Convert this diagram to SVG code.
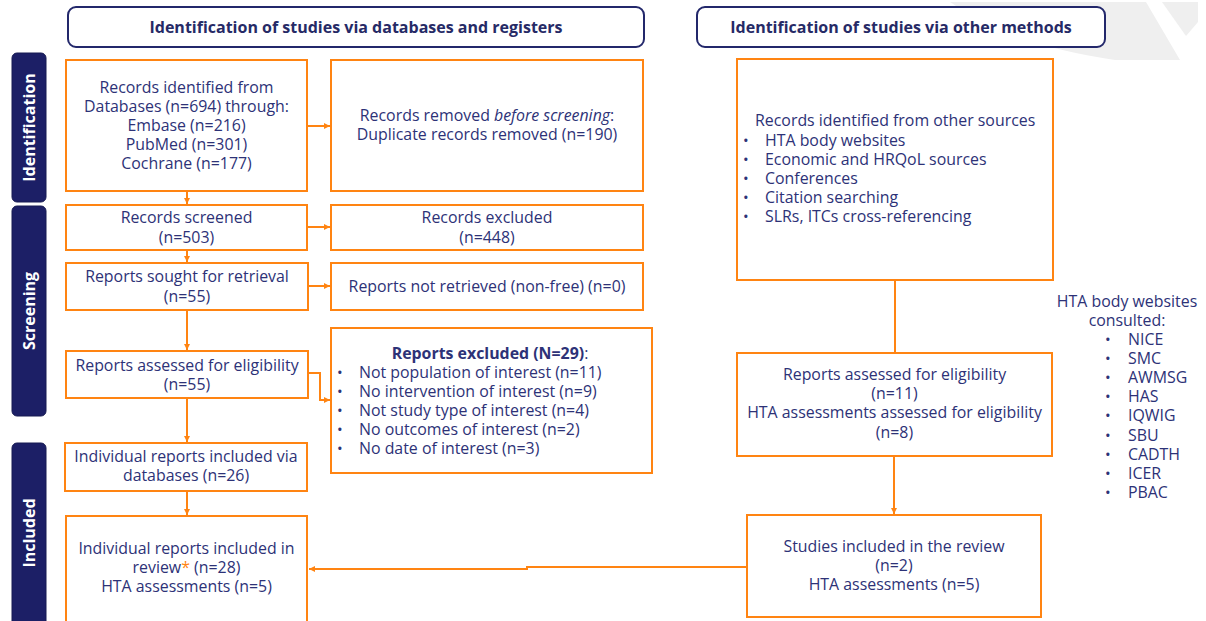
<svg xmlns="http://www.w3.org/2000/svg" width="1206" height="621" viewBox="0 0 1206 621">
<style>
.t{font-family:"Open Sans","Liberation Sans",sans-serif;font-size:15.9px;fill:#2d3277}
.c{text-anchor:middle}
.hb{font-family:"Open Sans","Liberation Sans",sans-serif;font-size:16px;font-weight:bold;fill:#262a66;text-anchor:middle}
.box{fill:#fff;stroke:#ff8412;stroke-width:2}
.hdr{fill:#fff;stroke:#23286b;stroke-width:2}
.side{fill:#1c1f66;stroke:#161a52;stroke-width:1}
.sl{font-family:"Open Sans","Liberation Sans",sans-serif;font-size:16px;font-weight:bold;fill:#fff;text-anchor:middle}
.ln{fill:none;stroke:#ff8412;stroke-width:2}
.b{font-weight:bold}
.bu{font-size:15px}
</style>
<defs>
<marker id="ah" viewBox="0 0 10 10" refX="10" refY="5" markerWidth="3" markerHeight="3" orient="auto" markerUnits="strokeWidth">
<path d="M0,0 L10,5 L0,10 Z" fill="#ff8412"/>
</marker>
</defs>
<rect width="1206" height="621" fill="#fff"/>
<g id="bg-deco" fill="#efefef">
<path d="M950,2 Q1010,45 1115,60 L1180,60 L1146,2 Z"/>
<path d="M1162,2 L1198,2 L1198,22 L1186,36 Z"/>
</g>

<g id="hdr-db"><rect class="hdr" x="68" y="7" width="576" height="40" rx="8"/><text class="hb" x="356" y="33">Identification of studies via databases and registers</text></g>
<g id="hdr-other"><rect class="hdr" x="697" y="7" width="408" height="40" rx="8"/><text class="hb" x="901" y="33">Identification of studies via other methods</text></g>

<g id="side-identification"><rect class="side" x="12" y="53" width="34" height="149" rx="5"/><text class="sl" transform="translate(35,127.5) rotate(-90)">Identification</text></g>
<g id="side-screening"><rect class="side" x="12" y="206" width="34" height="210" rx="5"/><text class="sl" transform="translate(35,311) rotate(-90)">Screening</text></g>
<g id="side-included"><rect class="side" x="12" y="443" width="34" height="190" rx="5"/><text class="sl" transform="translate(35,533) rotate(-90)">Included</text></g>

<g id="connectors">
<path class="ln" d="M307,126 H330" marker-end="url(#ah)"/>
<path class="ln" d="M187,192 V204" marker-end="url(#ah)"/>
<path class="ln" d="M307,227 H330" marker-end="url(#ah)"/>
<path class="ln" d="M187,251 V262" marker-end="url(#ah)"/>
<path class="ln" d="M308,286 H330" marker-end="url(#ah)"/>
<path class="ln" d="M187,311 V350" marker-end="url(#ah)"/>
<path class="ln" d="M308,373 H320 V400 H330" marker-end="url(#ah)"/>
<path class="ln" d="M187,399 V442" marker-end="url(#ah)"/>
<path class="ln" d="M187,492 V515" marker-end="url(#ah)"/>
<path class="ln" d="M895,281 V353"/>
<path class="ln" d="M894,457 V514" marker-end="url(#ah)"/>
<path class="ln" d="M746,567 H527 V569 H309" marker-end="url(#ah)"/>
</g>

<g id="n-records-db"><rect class="box" x="66" y="60" width="241" height="131"/>
<text class="t c"><tspan x="186.5" y="93">Records identified from</tspan><tspan x="186.5" y="112">Databases (n=694) through:</tspan><tspan x="186.5" y="131">Embase (n=216)</tspan><tspan x="186.5" y="150">PubMed (n=301)</tspan><tspan x="186.5" y="169">Cochrane (n=177)</tspan></text></g>

<g id="n-removed"><rect class="box" x="331" y="60" width="312" height="131"/>
<text class="t c"><tspan x="487" y="121">Records removed <tspan font-style="italic">before screening</tspan>:</tspan><tspan x="487" y="140">Duplicate records removed (n=190)</tspan></text></g>

<g id="n-screened"><rect class="box" x="66" y="205" width="241" height="45"/>
<text class="t c"><tspan x="186.5" y="223">Records screened</tspan><tspan x="186.5" y="243">(n=503)</tspan></text></g>

<g id="n-excluded"><rect class="box" x="331" y="205" width="312" height="45"/>
<text class="t c"><tspan x="487" y="223">Records excluded</tspan><tspan x="487" y="243">(n=448)</tspan></text></g>

<g id="n-sought"><rect class="box" x="66" y="263" width="242" height="47"/>
<text class="t c"><tspan x="187" y="282">Reports sought for retrieval</tspan><tspan x="187" y="302">(n=55)</tspan></text></g>

<g id="n-not-retrieved"><rect class="box" x="331" y="263" width="312" height="47"/>
<text class="t c" x="487" y="292">Reports not retrieved (non-free) (n=0)</text></g>

<g id="n-assessed"><rect class="box" x="66" y="351" width="242" height="47"/>
<text class="t c"><tspan x="187" y="371">Reports assessed for eligibility</tspan><tspan x="187" y="390">(n=55)</tspan></text></g>

<g id="n-reports-excluded"><rect class="box" x="331" y="328" width="321" height="145"/>
<text class="t c" x="490" y="359"><tspan class="b">Reports excluded (N=29)</tspan>:</text>
<g class="t"><text class="bu" x="337" y="378">•</text><text class="bu" x="337" y="397">•</text><text class="bu" x="337" y="416">•</text><text class="bu" x="337" y="435">•</text><text class="bu" x="337" y="454">•</text>
<text x="359" y="378">Not population of interest (n=11)</text><text x="359" y="397">No intervention of interest (n=9)</text><text x="359" y="416">Not study type of interest (n=4)</text><text x="359" y="435">No outcomes of interest (n=2)</text><text x="359" y="454">No date of interest (n=3)</text></g></g>

<g id="n-included-db"><rect class="box" x="65" y="443" width="242" height="48"/>
<text class="t c"><tspan x="186" y="462">Individual reports included via</tspan><tspan x="186" y="481">databases (n=26)</tspan></text></g>

<g id="n-included-review"><rect class="box" x="66" y="516" width="241" height="115"/>
<text class="t c"><tspan x="186.5" y="554">Individual reports included in</tspan><tspan x="186.5" y="573">review<tspan fill="#ff8412">*</tspan> (n=28)</tspan><tspan x="186.5" y="592">HTA assessments (n=5)</tspan></text></g>

<g id="n-other-sources"><rect class="box" x="737" y="59" width="316" height="221"/>
<text class="t" x="755" y="126">Records identified from other sources</text>
<g class="t"><text class="bu" x="743" y="146">•</text><text class="bu" x="743" y="165">•</text><text class="bu" x="743" y="184">•</text><text class="bu" x="743" y="203">•</text><text class="bu" x="743" y="222">•</text>
<text x="765" y="146">HTA body websites</text><text x="765" y="165">Economic and HRQoL sources</text><text x="765" y="184">Conferences</text><text x="765" y="203">Citation searching</text><text x="765" y="222">SLRs, ITCs cross-referencing</text></g></g>

<g id="n-assessed-other"><rect class="box" x="737" y="353" width="315" height="103"/>
<text class="t c"><tspan x="894.5" y="380">Reports assessed for eligibility</tspan><tspan x="894.5" y="399">(n=11)</tspan><tspan x="894.5" y="418">HTA assessments assessed for eligibility</tspan><tspan x="894.5" y="438">(n=8)</tspan></text></g>

<g id="n-studies-included"><rect class="box" x="747" y="515" width="294" height="102"/>
<text class="t c"><tspan x="894" y="552">Studies included in the review</tspan><tspan x="894" y="571">(n=2)</tspan><tspan x="894" y="590">HTA assessments (n=5)</tspan></text></g>

<g id="hta-list">
<text class="t c"><tspan x="1127" y="307">HTA body websites</tspan><tspan x="1127" y="326">consulted:</tspan></text>
<g class="t"><text class="bu" x="1105" y="345">•</text><text class="bu" x="1105" y="364">•</text><text class="bu" x="1105" y="383">•</text><text class="bu" x="1105" y="402">•</text><text class="bu" x="1105" y="421">•</text><text class="bu" x="1105" y="441">•</text><text class="bu" x="1105" y="460">•</text><text class="bu" x="1105" y="479">•</text><text class="bu" x="1105" y="498">•</text>
<text x="1128" y="345">NICE</text><text x="1128" y="364">SMC</text><text x="1128" y="383">AWMSG</text><text x="1128" y="402">HAS</text><text x="1128" y="421">IQWIG</text><text x="1128" y="441">SBU</text><text x="1128" y="460">CADTH</text><text x="1128" y="479">ICER</text><text x="1128" y="498">PBAC</text></g>
</g>
</svg>
